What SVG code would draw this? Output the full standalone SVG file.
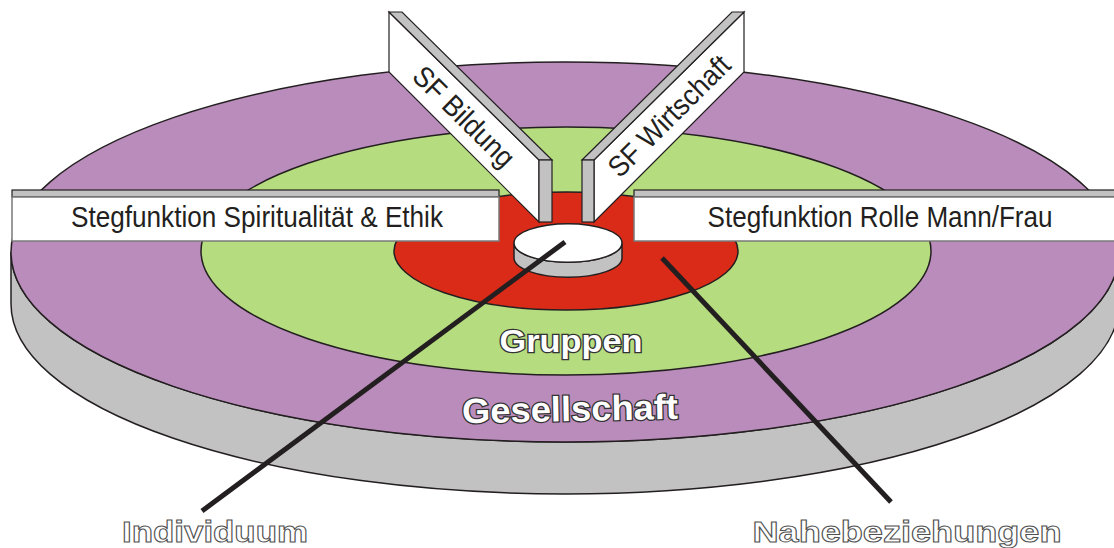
<svg xmlns="http://www.w3.org/2000/svg" width="1114" height="548" viewBox="0 0 1114 548">
<style>
.ol{stroke:#231f20;stroke-width:1.5}
.side{fill:#c2c2c2}
.face{fill:#ffffff;stroke:#231f20;stroke-width:1.2}
.box{fill:#ffffff;stroke:#7a7a7a;stroke-width:1.5}
.strip{fill:#c2c2c2;stroke:#231f20;stroke-width:1.2}
.lbl{font-family:"Liberation Sans",Arial,sans-serif;font-size:29px;fill:#231f20;text-anchor:middle}
.ring{font-family:"Liberation Sans",Arial,sans-serif;font-weight:bold;fill:#ffffff;stroke:#333333;stroke-width:2.6;paint-order:stroke;text-anchor:middle}
.out{font-family:"Liberation Sans",Arial,sans-serif;font-weight:bold;font-size:30px;fill:#ffffff;stroke:#505050;stroke-width:1;text-anchor:middle}
.conn{stroke:#231f20;stroke-width:5;fill:none}
</style>
<rect width="1114" height="548" fill="#ffffff"/>
<g id="disk">
<path class="side ol" d="M11 252 A554 190 0 0 0 1119 252 L1119 304 A554 190 0 0 1 11 304 Z"/>
</g>
<g id="ring-gesellschaft">
<ellipse class="ol" cx="565" cy="252" rx="554" ry="190" fill="#ba8cbb"/>
</g>
<g id="ring-gruppen">
<ellipse class="ol" cx="566" cy="251" rx="365" ry="124" fill="#b5dc7e"/>
</g>
<g id="ring-nahebeziehungen">
<ellipse class="ol" cx="566" cy="251" rx="172" ry="59" fill="#da2a18"/>
</g>
<g id="individuum-disk">
<path class="side ol" d="M514 243 A54 19.3 0 0 0 622 243 L622 258 A54 19.3 0 0 1 514 258 Z"/>
<ellipse class="ol" cx="568" cy="243" rx="54" ry="19.3" fill="#ffffff"/>
</g>
<g id="beam-spiritualitaet">
<rect class="strip" x="12" y="190" width="487" height="7"/>
<rect class="box" x="12" y="197" width="487" height="44"/>
<text class="lbl" x="257" y="227" textLength="372" lengthAdjust="spacingAndGlyphs">Stegfunktion Spiritualität &amp; Ethik</text>
</g>
<g id="beam-rolle">
<rect class="strip" x="634" y="190" width="490" height="7"/>
<rect class="box" x="634" y="197" width="490" height="44"/>
<text class="lbl" x="880" y="227" textLength="345" lengthAdjust="spacingAndGlyphs">Stegfunktion Rolle Mann/Frau</text>
</g>
<g id="wall-bildung">
<polygon class="face" points="389,12 539,160 539,222 389,72"/>
<polygon class="strip" points="389,12 402,12 552,160 539,160"/>
<rect class="strip" x="539" y="160" width="13" height="62"/>
<text class="lbl" transform="translate(464,116.5) rotate(44.6)" x="0" y="10" textLength="130" lengthAdjust="spacingAndGlyphs">SF Bildung</text>
</g>
<g id="wall-wirtschaft">
<polygon class="face" points="744,12 594,160 594,222 744,72"/>
<polygon class="strip" points="732,12 744,12 594,160 582,160"/>
<rect class="strip" x="582" y="160" width="12" height="62"/>
<text class="lbl" transform="translate(669,116) rotate(-44.8)" x="0" y="10" textLength="159" lengthAdjust="spacingAndGlyphs">SF Wirtschaft</text>
</g>
<g id="connectors">
<line class="conn" x1="565" y1="242" x2="202" y2="511"/>
<line class="conn" x1="662" y1="258" x2="891" y2="502"/>
</g>
<g id="labels">
<text class="ring" x="571" y="352" font-size="31" textLength="143" lengthAdjust="spacingAndGlyphs">Gruppen</text>
<text class="ring" x="570" y="421" font-size="35" textLength="216" lengthAdjust="spacingAndGlyphs" transform="rotate(-1.2 570 410)">Gesellschaft</text>
<text class="out" x="215" y="542" textLength="186" lengthAdjust="spacingAndGlyphs">Individuum</text>
<text class="out" x="907" y="542" textLength="309" lengthAdjust="spacingAndGlyphs">Nahebeziehungen</text>
</g>
</svg>
